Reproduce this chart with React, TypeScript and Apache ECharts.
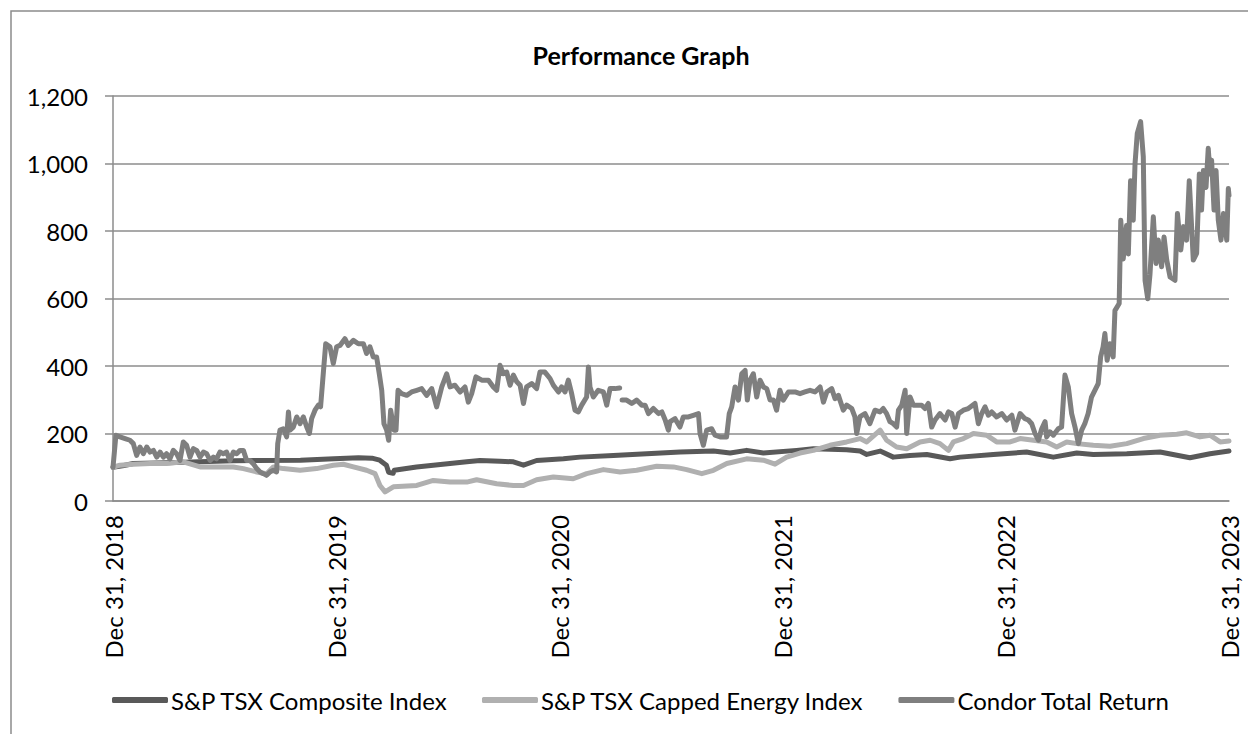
import React, { useEffect, useRef } from "react";
import * as echarts from "echarts";

// x = years elapsed since Dec 31, 2018 ; y = indexed value (start = 100)
const xTickLabels = ["Dec 31, 2018", "Dec 31, 2019", "Dec 31, 2020", "Dec 31, 2021", "Dec 31, 2022", "Dec 31, 2023"];
const seriesNames = ["S&P TSX Composite Index", "S&P TSX Capped Energy Index", "Condor Total Return"];

const composite: [number, number][] = [
  [0, 100], [0.05, 105], [0.09, 111], [0.24, 113], [0.39, 116], [0.54, 119], [0.64, 120], [0.84, 121],
  [0.99, 125], [1.1, 128], [1.16, 127], [1.195, 121], [1.225, 106], [1.235, 85], [1.255, 82], [1.26, 91],
  [1.36, 101], [1.435, 106], [1.585, 116], [1.644, 120], [1.734, 118], [1.794, 116], [1.839, 106],
  [1.898, 120], [2.018, 125], [2.092, 130], [2.242, 135], [2.391, 140], [2.541, 145], [2.69, 148],
  [2.765, 142], [2.839, 150], [2.914, 142], [3.063, 150], [3.138, 155], [3.287, 152], [3.347, 148],
  [3.377, 138], [3.437, 148], [3.496, 130], [3.571, 135], [3.646, 138], [3.75, 125], [3.795, 130],
  [3.944, 138], [4.093, 145], [4.213, 130], [4.318, 142], [4.392, 138], [4.542, 140], [4.691, 145],
  [4.825, 128], [4.915, 140], [5.0, 148],
];

const energy: [number, number][] = [
  [0, 100], [0.031, 106], [0.091, 109], [0.166, 111], [0.24, 111], [0.315, 116], [0.39, 101], [0.464, 101],
  [0.539, 101], [0.584, 96], [0.644, 86], [0.688, 81], [0.718, 101], [0.763, 96], [0.838, 91], [0.912, 96],
  [0.987, 106], [1.032, 109], [1.077, 101], [1.136, 91], [1.174, 81], [1.196, 46], [1.219, 27], [1.256, 42],
  [1.361, 46], [1.435, 61], [1.51, 56], [1.585, 56], [1.629, 63], [1.719, 51], [1.794, 46], [1.839, 46],
  [1.898, 63], [1.973, 71], [2.062, 66], [2.122, 81], [2.197, 93], [2.272, 86], [2.346, 91], [2.436, 103],
  [2.511, 101], [2.57, 93], [2.638, 81], [2.69, 91], [2.75, 111], [2.839, 125], [2.914, 121], [2.966, 109],
  [3.018, 130], [3.078, 142], [3.138, 150], [3.212, 165], [3.287, 175], [3.347, 185], [3.377, 175],
  [3.437, 210], [3.466, 180], [3.511, 160], [3.556, 155], [3.616, 175], [3.661, 180], [3.705, 170],
  [3.743, 150], [3.765, 175], [3.81, 185], [3.855, 200], [3.914, 195], [3.959, 175], [4.019, 175],
  [4.064, 185], [4.124, 180], [4.183, 175], [4.228, 160], [4.273, 175], [4.318, 170], [4.392, 165],
  [4.467, 162], [4.542, 170], [4.616, 185], [4.691, 195], [4.766, 198], [4.81, 202], [4.87, 190],
  [4.915, 195], [4.96, 175], [5.0, 178],
];

const condor: [number, number | null][] = [
  [0, 100], [0.013, 195], [0.031, 190], [0.054, 185], [0.076, 180], [0.091, 170], [0.106, 135], [0.121, 160],
  [0.136, 140], [0.151, 160], [0.166, 145], [0.181, 150], [0.196, 130], [0.211, 145], [0.226, 130], [0.24, 140],
  [0.255, 125], [0.27, 150], [0.285, 140], [0.3, 120], [0.315, 175], [0.33, 165], [0.345, 130], [0.36, 155],
  [0.375, 150], [0.39, 130], [0.405, 145], [0.42, 140], [0.435, 120], [0.45, 130], [0.464, 125], [0.479, 145],
  [0.494, 140], [0.509, 145], [0.524, 120], [0.539, 145], [0.554, 140], [0.569, 150], [0.584, 150], [0.599, 120],
  [0.614, 120], [0.629, 110], [0.644, 96], [0.659, 86], [0.674, 81], [0.688, 76], [0.703, 86], [0.718, 91],
  [0.733, 86], [0.738, 170], [0.748, 210], [0.763, 214], [0.778, 190], [0.786, 264], [0.793, 210], [0.808, 219],
  [0.823, 249], [0.838, 229], [0.853, 249], [0.868, 219], [0.88, 200], [0.89, 244], [0.905, 269], [0.92, 284],
  [0.93, 279], [0.942, 377], [0.953, 466], [0.972, 457], [0.987, 407], [1.002, 457], [1.017, 461], [1.039, 481],
  [1.054, 461], [1.077, 476], [1.099, 466], [1.122, 466], [1.136, 437], [1.151, 457], [1.166, 427], [1.181, 427],
  [1.193, 377], [1.204, 328], [1.214, 229], [1.226, 210], [1.235, 180], [1.244, 269], [1.259, 210], [1.268, 210],
  [1.277, 328], [1.293, 318], [1.316, 313], [1.338, 323], [1.361, 328], [1.383, 333], [1.405, 313], [1.428, 333],
  [1.45, 279], [1.473, 338], [1.495, 377], [1.51, 338], [1.532, 343], [1.555, 323], [1.577, 338], [1.592, 293],
  [1.607, 318], [1.626, 368], [1.652, 358], [1.682, 358], [1.704, 338], [1.719, 328], [1.734, 402], [1.749, 377],
  [1.764, 382], [1.779, 343], [1.794, 373], [1.809, 353], [1.824, 343], [1.839, 289], [1.853, 338], [1.876, 348],
  [1.898, 333], [1.913, 382], [1.935, 382], [1.958, 363], [1.973, 343], [1.996, 323], [2.01, 338], [2.025, 323],
  [2.04, 358], [2.055, 318], [2.07, 269], [2.085, 264], [2.1, 284], [2.122, 308], [2.13, 397], [2.137, 338],
  [2.152, 308], [2.174, 328], [2.197, 323], [2.212, 284], [2.227, 333], [2.249, 333], [2.27, 335], [2.275, null],
  [2.281, 299], [2.301, 299], [2.324, 289], [2.346, 299], [2.369, 284], [2.384, 284], [2.399, 259], [2.421, 274], [2.444, 259],
  [2.459, 264], [2.474, 240], [2.488, 210], [2.496, 235], [2.518, 244], [2.54, 219], [2.555, 249], [2.578, 249],
  [2.6, 254], [2.623, 259], [2.63, 200], [2.645, 165], [2.66, 210], [2.682, 214], [2.697, 195], [2.72, 190],
  [2.749, 190], [2.761, 259], [2.772, 279], [2.787, 338], [2.802, 299], [2.817, 377], [2.832, 387], [2.842, 299],
  [2.854, 358], [2.869, 377], [2.884, 308], [2.899, 358], [2.914, 338], [2.929, 333], [2.944, 299], [2.959, 299],
  [2.973, 269], [2.988, 328], [3.003, 299], [3.026, 323], [3.056, 323], [3.078, 318], [3.1, 323], [3.123, 328],
  [3.145, 323], [3.168, 338], [3.183, 293], [3.198, 323], [3.22, 333], [3.235, 303], [3.25, 313], [3.272, 269],
  [3.287, 284], [3.31, 274], [3.324, 249], [3.332, 200], [3.347, 250], [3.369, 259], [3.391, 229], [3.414, 269],
  [3.436, 264], [3.451, 274], [3.466, 259], [3.481, 235], [3.496, 229], [3.511, 219], [3.519, 269], [3.534, 284],
  [3.549, 328], [3.556, 200], [3.571, 308], [3.586, 284], [3.601, 284], [3.623, 284], [3.638, 274], [3.653, 289],
  [3.668, 219], [3.683, 240], [3.705, 259], [3.728, 240], [3.743, 264], [3.758, 259], [3.773, 219], [3.788, 259],
  [3.81, 269], [3.832, 274], [3.862, 289], [3.877, 229], [3.892, 259], [3.907, 279], [3.922, 254], [3.937, 264],
  [3.959, 249], [3.982, 259], [4.004, 240], [4.027, 254], [4.041, 210], [4.064, 259], [4.086, 244], [4.101, 240],
  [4.116, 229], [4.131, 200], [4.146, 180], [4.161, 214], [4.176, 235], [4.183, 190], [4.198, 205], [4.213, 195],
  [4.235, 214], [4.25, 219], [4.265, 373], [4.28, 338], [4.295, 259], [4.31, 219], [4.325, 170], [4.34, 210],
  [4.354, 229], [4.369, 259], [4.384, 308], [4.399, 328], [4.414, 348], [4.425, 427], [4.436, 457], [4.444, 496],
  [4.454, 417], [4.466, 466], [4.481, 427], [4.489, 564], [4.508, 585], [4.515, 832], [4.526, 717], [4.541, 816],
  [4.549, 732], [4.559, 949], [4.571, 832], [4.579, 1000], [4.589, 1089], [4.604, 1124], [4.616, 1020],
  [4.624, 653], [4.636, 599], [4.646, 672], [4.661, 842], [4.673, 704], [4.683, 773], [4.698, 694], [4.709, 782],
  [4.721, 714], [4.736, 664], [4.758, 654], [4.769, 852], [4.784, 744], [4.796, 813], [4.81, 773], [4.822, 949],
  [4.84, 714], [4.855, 734], [4.867, 969], [4.877, 862], [4.885, 979], [4.897, 929], [4.907, 1045], [4.915, 969],
  [4.922, 1010], [4.933, 862], [4.942, 979], [4.952, 832], [4.964, 773], [4.975, 852], [4.99, 773], [4.997, 926],
  [5.0, 905],
];

const colors = ["#595959", "#b0b0b0", "#7f7f7f"];
const FONT = "Lato, 'Liberation Sans', sans-serif";

export default function App() {
  const ref = useRef<HTMLDivElement>(null);
  useEffect(() => {
    if (!ref.current) return;
    const chart = echarts.init(ref.current, null, { renderer: "svg" });
    const datasets = [composite, energy, condor];
    chart.setOption({
      animation: false,
      backgroundColor: "#ffffff",
      textStyle: { fontFamily: FONT },
      title: {
        text: "Performance Graph",
        left: 636,
        top: 37,
        textAlign: "center",
        textStyle: { fontFamily: FONT, fontSize: 25, fontWeight: "bold", color: "#000" },
      },
      graphic: [
        {
          type: "rect",
          shape: { x: 11, y: 11, width: 1400, height: 900 },
          style: { fill: "none", stroke: "#8c8c8c", lineWidth: 1.5 },
          silent: true,
        },
      ],
      legend: {
        left: 107,
        top: 683,
        itemWidth: 56,
        itemHeight: 6,
        itemGap: 34,
        icon: "roundRect",
        data: seriesNames,
        textStyle: { fontFamily: FONT, fontSize: 24, color: "#000", padding: [0, 0, 0, -2] },
      },
      grid: { left: 113, right: 19, top: 96, bottom: 233, containLabel: false },
      xAxis: {
        type: "value",
        min: 0,
        max: 5,
        interval: 1,
        axisLine: { show: true, lineStyle: { color: "#8c8c8c", width: 1.5 } },
        axisTick: { show: false },
        splitLine: { show: false },
        axisLabel: {
          rotate: 90,
          margin: 14,
          fontFamily: FONT,
          fontSize: 24,
          color: "#000",
          formatter: (v: number) => xTickLabels[Math.round(v)] ?? "",
        },
      },
      yAxis: {
        type: "value",
        min: 0,
        max: 1200,
        interval: 200,
        axisLine: { show: true, lineStyle: { color: "#8c8c8c", width: 1.5 } },
        axisTick: { show: true, length: 8, lineStyle: { color: "#8c8c8c", width: 1.5 } },
        splitLine: { show: true, lineStyle: { color: "#8c8c8c", width: 1.5 } },
        axisLabel: {
          margin: 25,
          fontFamily: FONT,
          fontSize: 24,
          color: "#000",
          formatter: (v: number) => v.toLocaleString("en-US"),
        },
      },
      series: seriesNames.map((name, i) => ({
        name,
        type: "line",
        data: datasets[i],
        symbol: "none",
        connectNulls: false,
        z: 2 + i,
        lineStyle: { color: colors[i], width: 5, join: "round", cap: "round" },
        itemStyle: { color: colors[i] },
      })),
    });
    return () => chart.dispose();
  }, []);
  return (
    <div
      ref={ref}
      style={{ position: "fixed", left: 0, top: 0, width: 1248, height: 734 }}
    />
  );
}
